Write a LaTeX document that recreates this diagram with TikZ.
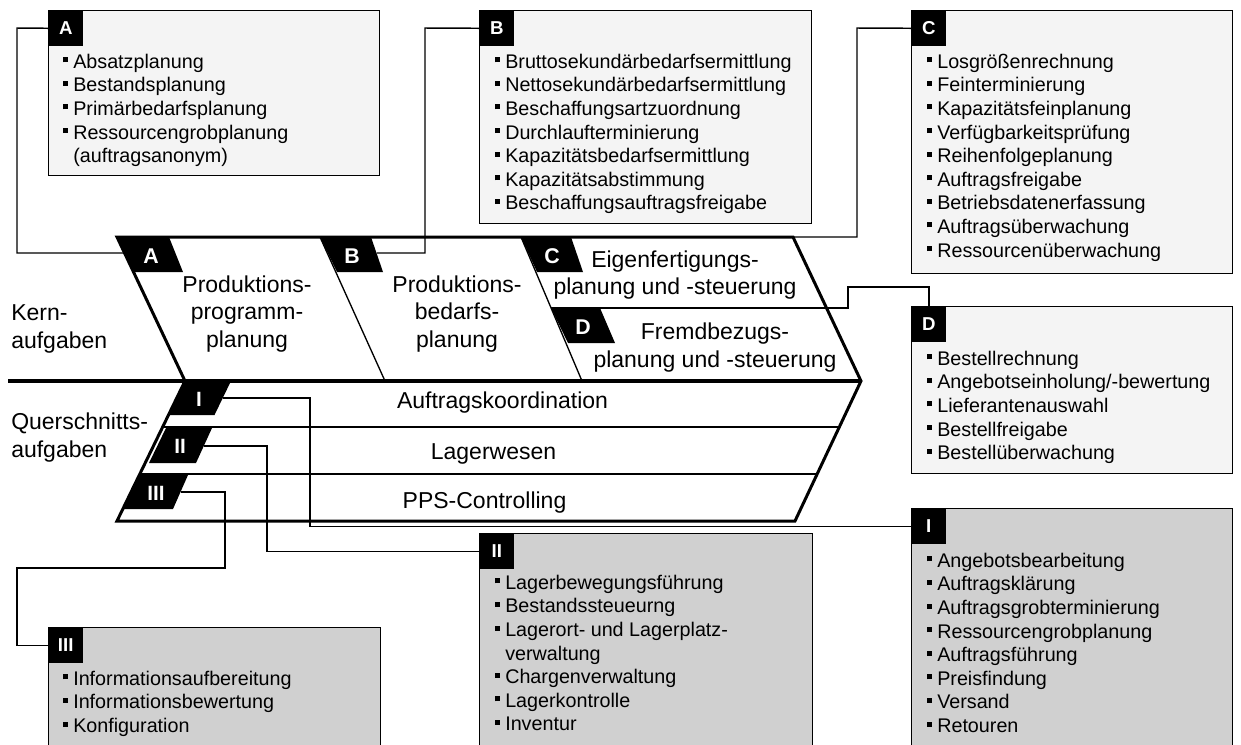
\documentclass[tikz,border=0pt]{standalone}
\usepackage{fontspec}
\setmainfont{Liberation Sans}
\definecolor{boxlight}{HTML}{F4F4F4}
\definecolor{boxdark}{HTML}{D0D0D0}
% list bullet: small black square, then the gap to the text
\newcommand{\bul}{\strut\makebox[7.5pt][l]{\rule[4.5pt]{3.75pt}{3.75pt}}}
\newcommand{\ind}{\hspace*{7.5pt}}

\begin{document}
\begin{tikzpicture}[x=0.75pt,y=-0.75pt,
  lbox/.style={draw=black, line width=1.1pt, fill=boxlight, anchor=north west, inner sep=0},
  dbox/.style={lbox, fill=boxdark},
  tabsq/.style={fill=black, text=white, font=\fontsize{14}{16}\selectfont\bfseries,
    minimum width=26.25pt, minimum height=27pt, anchor=north west, inner sep=0},
  list/.style={anchor=north west, inner sep=0, align=left, font=\fontsize{14.8}{17.7}\selectfont},
  big/.style={inner sep=0, font=\fontsize{17.25}{20.6}\selectfont},
  badge/.style={fill=black},
  blbl/.style={text=white, inner sep=0, font=\fontsize{16}{18}\selectfont\bfseries},
  slbl/.style={text=white, inner sep=0, font=\fontsize{15.5}{18}\selectfont\bfseries},
  conn/.style={line width=1.1pt},
  thin/.style={line width=1pt},
]
\useasboundingbox (0,0) rectangle (1241,744);
\clip (0,0) rectangle (1241,744);

% ---- central chevron: core tasks (top) and cross-sectional tasks (bottom)
\draw[line width=2.25pt, fill=white, line join=miter]
  (117,237) -- (793,237) -- (861,381) -- (795,521) -- (117,521) -- (185,381) -- cycle;
\coordinate (cornerTR) at (793,237);

% dividers between the core tasks
\draw[thin] (320,237) -- (385,381);
\draw[thin] (521,237) -- (582,381);
\draw[thin] (551,308) -- (826.5,308);
% lanes of the cross-sectional tasks
\draw[thin] (162.7,427) -- (839.3,427);
\draw[thin] (139.8,474) -- (817.2,474);
% separator between the two halves
\draw[line width=3pt] (8,381) -- (861,381);

% ---- badges
\fill[badge] (116,237) -- (169,237) -- (183,272) -- (134,272) -- cycle;
\fill[badge] (320,237) -- (371,237) -- (383,272) -- (337,272) -- cycle;
\fill[badge] (521,237) -- (571,237) -- (583,272) -- (537,272) -- cycle;
\fill[badge] (551,308) -- (600,308) -- (615,343) -- (568,343) -- cycle;
\fill[badge] (185,381) -- (231,381) -- (214.5,415) -- (168.5,415) -- cycle;
\fill[badge] (166,428) -- (212,428) -- (196,463) -- (149,463) -- cycle;
\fill[badge] (139,475) -- (188,475) -- (173,509) -- (123,509) -- cycle;

\node[blbl] (bA) at (151,256) {A};
\node[blbl] (bB) at (352,256) {B};
\node[blbl] (bC) at (552,256) {C};
\node[blbl] (bD) at (583,327) {D};
\node[slbl] (bI) at (199,399) {I};
\node[slbl] (bII) at (180,446) {II};
\node[slbl] (bIII) at (156,493) {III};

% connection points on the badges
\coordinate (pA) at (125,253);
\coordinate (pB) at (376.5,253);
\coordinate (pD) at (826.5,308);
\coordinate (pI) at (222.7,398);
\coordinate (pII) at (203.8,446);
\coordinate (pIII) at (180.5,492);

% ---- texts in the chevron
\node[big, align=center] (kpA) at (247,314) {Produktions-\\programm-\\planung};
\node[big, align=center] (kpB) at (457,314) {Produktions-\\bedarfs-\\planung};
\node[big, align=center] (kpC) at (675,275) {Eigenfertigungs-\\planung und -steuerung};
\node[big, align=center] (kpD) at (715,347.5) {Fremdbezugs-\\planung und -steuerung};
\node[big, align=left, anchor=west] (kern) at (11,329) {Kern-\\aufgaben};
\node[big, align=left, anchor=west] (quer) at (11,437.6) {Querschnitts-\\aufgaben};
\node[big, anchor=base] (laneI) at (502.5,408) {Auftragskoordination};
\node[big, anchor=base] (laneII) at (493.5,459) {Lagerwesen};
\node[big, anchor=base] (laneIII) at (484.5,508) {PPS-Controlling};

% ---- detail boxes
\node[lbox, minimum width=248.25pt, minimum height=123.75pt] (boxA) at (48,10) {};
\node[lbox, minimum width=249pt, minimum height=159.75pt] (boxB) at (479,10) {};
\node[lbox, minimum width=240.75pt, minimum height=197.25pt] (boxC) at (911,10) {};
\node[lbox, minimum width=240.75pt, minimum height=125.25pt] (boxD) at (911,306) {};
\node[dbox, minimum width=240.75pt, minimum height=189pt] (boxI) at (911,508) {};
\node[dbox, minimum width=249.75pt, minimum height=170.25pt] (boxII) at (479,533) {};
\node[dbox, minimum width=249pt, minimum height=99.75pt] (boxIII) at (48,627) {};

\node[tabsq] (tabA) at (boxA.north west) {A};
\node[tabsq] (tabB) at (boxB.north west) {B};
\node[tabsq] (tabC) at (boxC.north west) {C};
\node[tabsq] (tabD) at (boxD.north west) {D};
\node[tabsq] (tabI) at (boxI.north west) {I};
\node[tabsq] (tabII) at (boxII.north west) {II};
\node[tabsq] (tabIII) at (boxIII.north west) {III};

\node[list] (listA) at (63,51.5) {\bul Absatzplanung\\\bul Bestandsplanung\\\bul Primärbedarfsplanung\\\bul Ressourcengrobplanung\\\ind(auftragsanonym)};
\node[list] (listB) at (495,51.5) {\bul Bruttosekundärbedarfsermittlung\\\bul Nettosekundärbedarfsermittlung\\\bul Beschaffungsartzuordnung\\\bul Durchlaufterminierung\\\bul Kapazitätsbedarfsermittlung\\\bul Kapazitätsabstimmung\\\bul Beschaffungsauftragsfreigabe};
\node[list] (listC) at (927,51.5) {\bul Losgrößenrechnung\\\bul Feinterminierung\\\bul Kapazitätsfeinplanung\\\bul Verfügbarkeitsprüfung\\\bul Reihenfolgeplanung\\\bul Auftragsfreigabe\\\bul Betriebsdatenerfassung\\\bul Auftragsüberwachung\\\bul Ressourcenüberwachung};
\node[list] (listD) at (927,348.5) {\bul Bestellrechnung\\\bul Angebotseinholung/-bewertung\\\bul Lieferantenauswahl\\\bul Bestellfreigabe\\\bul Bestellüberwachung};
\node[list] (listI) at (927,550.5) {\bul Angebotsbearbeitung\\\bul Auftragsklärung\\\bul Auftragsgrobterminierung\\\bul Ressourcengrobplanung\\\bul Auftragsführung\\\bul Preisfindung\\\bul Versand\\\bul Retouren};
\node[list] (listII) at (495,572.5) {\bul Lagerbewegungsführung\\\bul Bestandssteueurng\\\bul Lagerort- und Lagerplatz-\\\ind verwaltung\\\bul Chargenverwaltung\\\bul Lagerkontrolle\\\bul Inventur};
\node[list] (listIII) at (63,668.5) {\bul Informationsaufbereitung\\\bul Informationsbewertung\\\bul Konfiguration};

% ---- connectors from the badges to their detail boxes
\coordinate (dTop) at (929,306);
\draw[conn] (tabA.west) -- (17,28) |- (pA);
\draw[conn] (tabB.west) -- (425,28) |- (pB);
\draw[conn] (tabC.west) -- (857,28) |- (cornerTR);
\draw[conn] (dTop) |- (848,287) |- (pD);
\draw[conn] (pI) -- (310,398) |- (tabI.west);
\draw[conn] (pII) -- (267,446) |- (tabII.west);
\draw[conn] (pIII) -- (225,492) -- (225,568) -- (17,568) |- (tabIII.west);
\end{tikzpicture}
\end{document}
